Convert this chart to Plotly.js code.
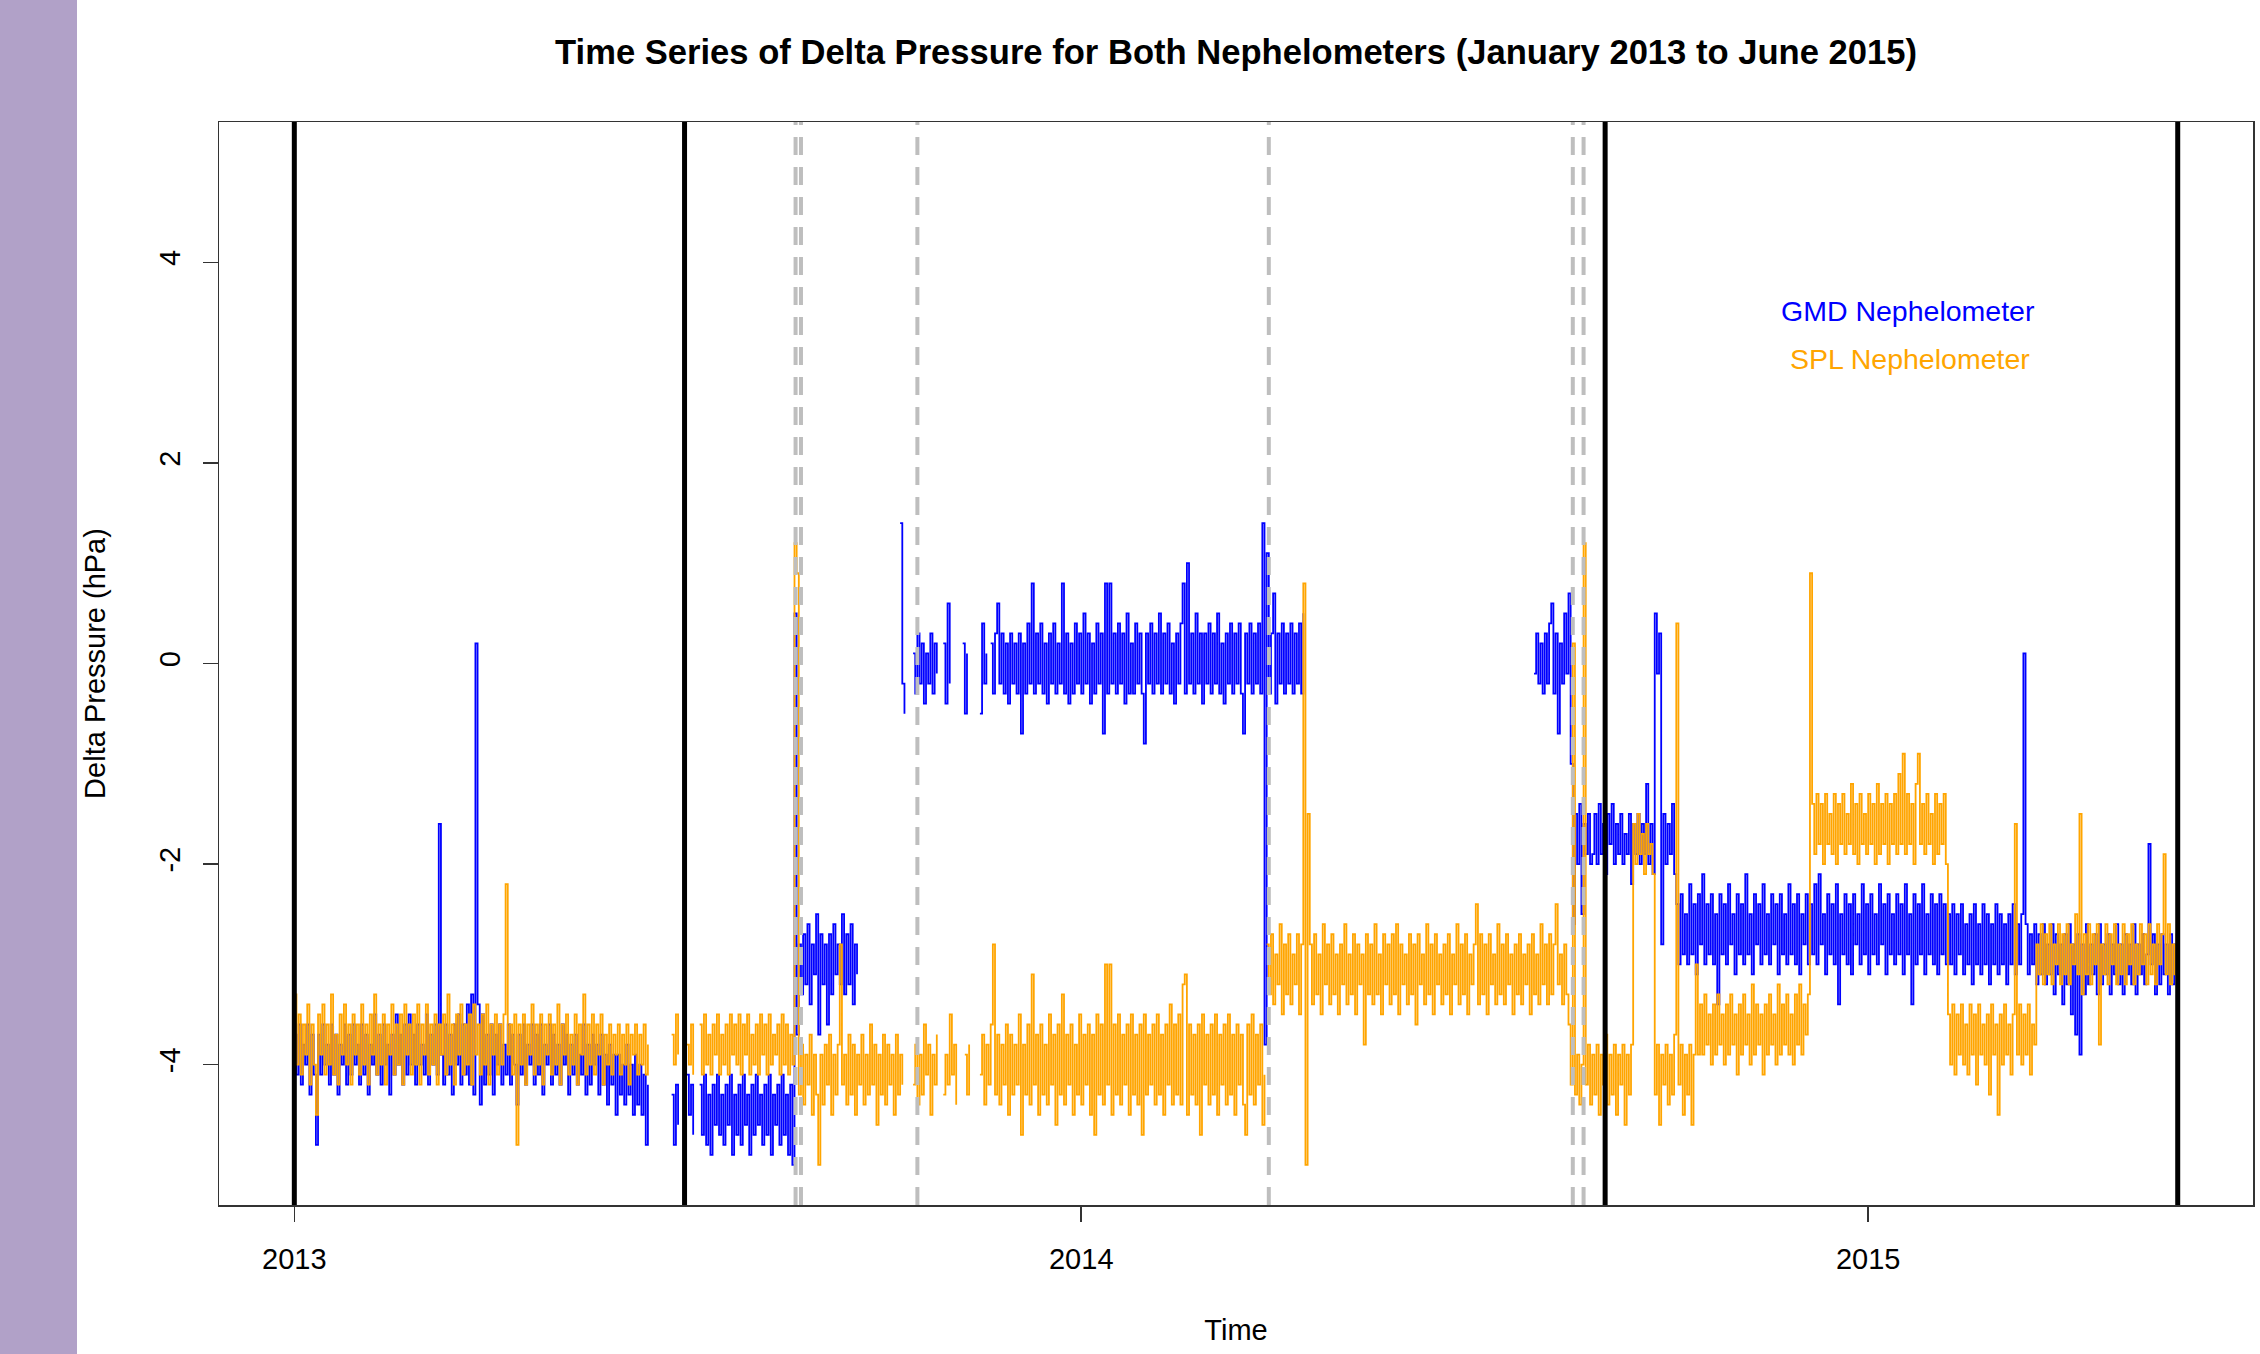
<!DOCTYPE html>
<html>
<head>
<meta charset="utf-8">
<script src="https://cdn.plot.ly/plotly-3.0.1.min.js"></script>
<style>
  html, body { margin: 0; padding: 0; background: #ffffff; }
  #chart { width: 2260px; height: 1354px; }
  #strip { position: absolute; left: 0; top: 0; width: 77px; height: 1354px; background: #b1a1c8; z-index: 10; }
</style>
</head>
<body>
<div id="strip"></div>
<div id="chart"></div>
<script>
// ---------------- DATA ----------------
// Daily values; each segment starts at the given day offset from 2013-01-01.

// GMD nephelometer: segment start days
const gmdStarts = [0, 175, 182, 188, 281, 287, 301, 310, 318, 323, 575];
// GMD nephelometer: segment values (hPa)
const gmdValues = [
  [-3.7,-4.1,-3.6,-4.2,-3.8,-4.0,-3.6,-4.3,-3.7,-4.1,
   -4.8,-3.7,-4.1,-3.6,-4.0,-3.8,-4.2,-3.6,-4.1,-3.7,
   -4.3,-3.8,-4.0,-3.6,-4.2,-3.7,-4.1,-3.6,-4.0,-3.8,
   -4.2,-3.6,-4.1,-3.7,-4.3,-3.8,-4.0,-3.5,-4.1,-3.7,
   -4.2,-3.6,-4.0,-3.8,-4.3,-3.7,-4.1,-3.5,-4.0,-3.7,
   -4.2,-3.6,-4.1,-3.5,-4.0,-3.7,-4.2,-3.6,-4.0,-3.8,
   -4.1,-3.5,-4.2,-3.7,-4.0,-3.6,-4.1,-1.6,-3.9,-4.2,
   -3.6,-4.1,-3.7,-4.3,-3.6,-4.0,-3.5,-4.2,-3.6,-4.1,
   -3.4,-4.2,-3.3,-4.3,0.2,-3.4,-4.4,-3.5,-4.2,-3.7,
   -4.1,-3.6,-4.3,-3.7,-4.0,-3.6,-4.2,-3.8,-4.1,-3.6,
   -4.2,-3.7,-4.0,-4.4,-3.7,-4.1,-3.6,-4.2,-3.8,-4.0,
   -3.6,-4.2,-3.7,-4.1,-3.6,-4.3,-3.8,-4.0,-3.6,-4.2,
   -3.7,-4.1,-3.8,-4.2,-3.6,-4.0,-3.7,-4.3,-3.8,-4.1,
   -3.7,-4.2,-3.9,-4.1,-3.6,-4.3,-3.8,-4.2,-3.7,-4.0,
   -3.8,-4.3,-3.7,-4.2,-3.9,-4.4,-3.8,-4.2,-3.9,-4.5,
   -3.9,-4.3,-4.0,-4.4,-3.8,-4.3,-4.0,-4.5,-3.9,-4.4,
   -4.0,-4.5,-4.1,-4.8,-4.2],
  [-4.3,-4.8,-4.2,-4.6],
  [-4.1,-4.5,-4.2,-4.7],
  [-4.2,-4.7,-4.1,-4.8,-4.3,-4.9,-4.2,-4.6,-4.1,-4.7,
   -4.3,-4.8,-4.2,-4.6,-4.1,-4.9,-4.3,-4.7,-4.2,-4.8,
   -4.1,-4.6,-4.3,-4.9,-4.2,-4.7,-4.1,-4.6,-4.3,-4.8,
   -4.2,-4.7,-4.1,-4.9,-4.3,-4.6,-4.2,-4.8,-4.1,-4.7,
   -4.3,-4.9,-4.2,-5.0,
   0.5,-3.7,
   -2.8,-3.3,-2.7,-3.2,-2.6,-3.4,-2.8,-3.1,-2.5,-3.7,
   -2.7,-3.2,-2.8,-3.6,-2.7,-3.3,-2.6,-3.1,-2.8,-3.2,
   -2.5,-3.3,-2.7,-3.2,-2.6,-3.4,-2.8,-3.1],
  [1.4,-0.2,-0.5],
  [0.1,-0.3,0.3,-0.2,0.2,-0.4,0.1,-0.2,0.3,-0.3,0.2,-0.1],
  [0.2,-0.4,0.6,-0.2],
  [0.2,-0.5,0.1],
  [-0.5,0.4,-0.2,0.1],
  [0.2,-0.3,0.3,0.6,-0.2,0.3,-0.3,0.2,-0.4,0.3,
   -0.2,0.2,-0.3,0.3,-0.7,0.2,-0.3,0.4,-0.2,0.8,
   -0.3,0.3,-0.2,0.4,-0.3,0.2,-0.4,0.3,-0.2,0.4,
   -0.3,0.2,-0.2,0.8,-0.3,0.3,-0.4,0.2,-0.3,0.4,
   -0.2,0.3,-0.3,0.5,-0.2,0.3,-0.4,0.2,-0.3,0.4,
   -0.2,0.3,-0.7,0.8,-0.3,0.8,-0.2,0.3,-0.3,0.4,
   -0.2,0.3,-0.4,0.5,-0.3,0.2,-0.3,0.4,-0.2,0.3,
   -0.3,-0.8,0.3,-0.2,0.4,-0.3,0.3,-0.2,0.5,-0.3,
   0.3,-0.2,0.4,-0.3,0.2,-0.4,0.3,-0.2,0.4,0.8,
   -0.3,1.0,-0.2,0.3,-0.3,0.5,-0.2,0.3,-0.4,0.3,
   -0.2,0.4,-0.3,0.3,-0.2,0.5,-0.3,0.2,-0.4,0.3,
   -0.2,0.4,-0.3,0.3,-0.2,0.4,-0.3,-0.7,0.3,-0.2,
   0.4,-0.3,0.3,-0.2,0.4,-0.3,1.4,-3.8,1.1,-0.3,
   0.3,0.7,-0.4,0.3,-0.2,0.4,-0.3,0.3,-0.2,0.4,
   -0.3,0.3,-0.2,0.4,-0.3,0.5],
  [-0.1,0.3,-0.2,0.2,-0.3,0.3,-0.2,0.4,0.6,-0.3,
   0.3,-0.7,0.2,-0.2,0.5,-0.1,0.7,
   -1.0,-2.6,-1.5,-2.0,-1.4,-2.5,-1.6,-1.9,-1.5,-2.0,
   -1.9,-1.5,-2.0,-1.4,-1.9,-1.6,-2.1,-1.5,-1.8,-1.4,
   -2.0,-1.6,-1.9,-1.5,-2.0,-1.7,-1.9,-1.5,-2.2,-1.6,
   -1.9,-1.5,-2.0,-1.6,-1.9,-1.2,-2.0,-1.6,-2.1,0.5,
   -0.1,0.3,-2.8,-1.5,-2.0,-1.6,-1.9,-1.4,-2.1,
   -2.4,-3.0,-2.3,-2.9,-2.5,-3.0,-2.2,-2.9,-2.4,-3.1,
   -2.3,-2.8,-2.1,-3.0,-2.4,-2.9,-2.3,-3.0,-2.5,-3.4,
   -2.3,-2.9,-2.4,-3.0,-2.2,-2.8,-2.5,-3.1,-2.3,-2.9,
   -2.4,-3.0,-2.1,-2.9,-2.5,-3.1,-2.3,-2.8,-2.4,-3.0,
   -2.2,-2.9,-2.5,-3.0,-2.3,-2.8,-2.4,-3.1,-2.3,-2.9,
   -2.5,-3.0,-2.2,-2.9,-2.4,-3.0,-2.3,-3.1,-2.5,-2.8,
   -2.3,-3.0,-2.4,-2.9,-2.2,-3.0,-2.1,-2.8,-2.5,-3.1,
   -2.3,-2.9,-2.4,-3.0,-2.2,-3.4,-2.5,-2.9,-2.3,-3.0,
   -2.4,-3.1,-2.3,-2.8,-2.5,-3.0,-2.2,-2.9,-2.4,-3.1,
   -2.3,-2.9,-2.5,-3.0,-2.2,-2.8,-2.4,-3.1,-2.3,-2.9,
   -2.5,-3.0,-2.3,-2.9,-2.4,-3.1,-2.2,-2.9,-2.5,-3.4,
   -2.3,-3.0,-2.4,-2.9,-2.2,-3.1,-2.5,-2.9,-2.3,-3.0,
   -2.4,-3.1,-2.3,-2.9,-2.4,-3.0,-2.5,-3.0,-2.4,-3.1,
   -2.5,-2.9,-2.4,-3.1,-2.6,-3.0,-2.5,-3.2,-2.4,-3.0,
   -2.6,-3.1,-2.4,-3.0,-2.5,-3.2,-2.6,-3.0,-2.4,-3.1,
   -2.5,-3.0,-2.6,-3.2,-2.5,-3.0,-2.4,-3.1,-2.6,-3.0,
   -2.5,0.1,-2.6,-3.1,-2.7,-3.0,-2.6,-3.2,-2.7,-3.1,
   -2.6,-3.2,-2.8,-3.1,-2.6,-3.3,-2.7,-3.1,-2.8,-3.4,
   -2.7,-3.2,-2.6,-3.5,-2.8,-3.7,-2.7,-3.9,-2.8,-3.3,
   -2.6,-3.2,-2.8,-3.1,-2.7,-3.3,-2.6,-3.2,-2.8,-3.1,
   -2.7,-3.3,-2.8,-3.1,-2.6,-3.2,-2.8,-3.3,-2.7,-3.1,
   -2.8,-3.2,-2.6,-3.3,-2.8,-3.1,-2.7,-3.2,-2.9,-1.8,
   -3.0,-2.7,-3.3,-2.8,-3.2,-2.7,-3.1,-2.8,-3.3,-2.7,
   -3.2,-2.8,-3.1,-2.9]
];

// SPL nephelometer: segment start days
const splStarts = [0, 175, 182, 188, 287, 301, 311, 318, 451];
// SPL nephelometer: segment values (hPa)
const splValues = [
  [-3.3,-4.0,-3.5,-4.1,-3.6,-3.9,-3.4,-4.2,-3.6,-4.0,
   -4.5,-3.5,-3.9,-3.4,-4.1,-3.6,-4.0,-3.3,-4.1,-3.7,
   -4.2,-3.5,-3.9,-3.4,-4.0,-3.6,-4.2,-3.5,-3.9,-3.6,
   -4.1,-3.4,-4.0,-3.6,-4.2,-3.5,-3.9,-3.3,-4.1,-3.6,
   -4.0,-3.5,-4.2,-3.6,-3.9,-3.4,-4.1,-3.6,-4.0,-3.5,
   -4.2,-3.4,-3.9,-3.6,-4.1,-3.5,-4.0,-3.4,-4.2,-3.6,
   -3.9,-3.4,-4.1,-3.6,-4.0,-3.5,-4.2,-3.6,-3.9,-3.5,
   -4.1,-3.3,-4.0,-3.6,-4.2,-3.5,-3.9,-3.4,-4.1,-3.6,
   -4.0,-3.5,-4.2,-3.4,-3.9,-3.6,-4.1,-3.5,-4.0,-3.4,
   -4.2,-3.6,-3.9,-3.5,-4.1,-3.6,-4.0,-3.5,-2.2,-3.9,
   -3.6,-4.1,-3.5,-4.8,-3.6,-4.0,-3.5,-4.2,-3.6,-3.9,
   -3.4,-4.1,-3.6,-4.0,-3.5,-4.2,-3.6,-3.9,-3.5,-4.1,
   -3.6,-4.0,-3.4,-4.2,-3.6,-3.9,-3.5,-4.1,-3.7,-4.0,
   -3.5,-4.2,-3.6,-3.9,-3.3,-4.1,-3.6,-4.0,-3.5,-4.1,
   -3.6,-3.9,-3.5,-4.2,-3.7,-4.0,-3.6,-4.1,-3.7,-3.9,
   -3.6,-4.1,-3.7,-4.0,-3.6,-4.2,-3.7,-3.9,-3.6,-4.1,
   -3.7,-4.0,-3.6,-4.1,-3.8],
  [-3.7,-4.0,-3.5,-3.9],
  [-3.8,-4.0,-3.6,-4.1],
  [-3.6,-4.1,-3.5,-4.0,-3.7,-4.1,-3.6,-3.9,-3.5,-4.1,
   -3.7,-4.0,-3.6,-4.1,-3.5,-3.9,-3.6,-4.0,-3.5,-4.1,
   -3.6,-3.9,-3.5,-4.1,-3.7,-4.0,-3.6,-4.1,-3.5,-3.9,
   -3.6,-4.1,-3.5,-4.0,-3.7,-3.9,-3.6,-4.1,-3.5,-4.0,
   -3.6,-4.1,-3.7,-4.0,
   1.2,0.9,
   -4.3,-3.8,-4.4,-3.9,-4.2,-3.7,-4.5,-3.9,-4.3,-5.0,
   -3.9,-4.4,-3.8,-4.2,-3.7,-4.5,-3.9,-4.3,-3.8,-2.8,
   -4.2,-3.9,-4.4,-3.7,-4.3,-3.8,-4.5,-3.9,-4.2,-3.7,
   -4.4,-3.9,-4.3,-3.6,-4.2,-3.8,-4.6,-3.9,-4.3,-3.7,
   -4.4,-3.8,-4.2,-3.9,-4.5,-3.7,-4.3,-3.9,-4.2],
  [-4.2,-3.8,-4.4,-3.9,-4.3,-3.6,-4.1,-3.8,-4.5,-3.9,-4.2,-3.7],
  [-4.3,-3.9,-4.2,-3.5,-4.1,-3.8,-4.4],
  [-3.9,-4.3,-3.8],
  [-4.1,-3.7,-4.4,-3.8,-4.2,-3.6,-2.8,-4.3,-3.7,-4.4,
   -3.8,-4.2,-3.6,-4.5,-3.7,-4.3,-3.8,-4.2,-3.5,-4.7,
   -3.8,-4.3,-3.6,-4.4,-3.1,-4.2,-3.7,-4.5,-3.6,-4.3,
   -3.8,-4.4,-3.5,-4.2,-3.7,-4.6,-3.6,-4.3,-3.3,-4.4,
   -3.7,-4.2,-3.6,-4.5,-3.8,-4.3,-3.5,-4.4,-3.7,-4.2,
   -3.6,-4.5,-3.7,-4.7,-3.5,-4.3,-3.6,-4.4,-3.0,-4.2,
   -3.0,-4.5,-3.6,-4.3,-3.5,-4.4,-3.7,-4.2,-3.6,-4.5,
   -3.5,-4.3,-3.7,-4.4,-3.6,-4.7,-3.5,-4.3,-3.7,-4.2,
   -3.6,-4.4,-3.5,-4.3,-3.7,-4.5,-3.6,-4.2,-3.4,-4.4,
   -3.6,-4.3,-3.5,-4.4,-3.2,-3.1,-4.5,-3.6,-4.3,-3.7,
   -4.4,-3.6,-4.7,-3.5,-4.2,-3.7,-4.4,-3.6,-4.3,-3.5,
   -4.5,-3.7,-4.2,-3.6,-4.4,-3.5,-4.3,-3.7,-4.5,-3.6,
   -4.2,-3.7,-4.4,-4.7,-3.6,-4.3,-3.5,-4.4,-3.7,-4.2,
   -3.6,-4.6,-4.1],
  [-2.8,-3.3,-2.7,-3.4,-2.9,-3.2,-2.6,-3.5,-2.8,-3.3,
   -2.7,-3.4,-2.9,-3.2,-2.7,-3.5,-2.8,0.8,-5.0,-1.5,
   -2.8,-3.4,-2.7,-3.3,-2.9,-3.5,-2.6,-3.2,-2.8,-3.4,
   -2.7,-3.3,-2.9,-3.5,-2.8,-3.2,-2.6,-3.4,-2.9,-3.3,
   -2.7,-3.5,-2.8,-3.2,-2.9,-3.8,-2.7,-3.3,-2.8,-3.4,
   -2.6,-3.3,-2.9,-3.5,-2.7,-3.2,-2.8,-3.4,-2.7,-3.3,
   -2.6,-3.5,-2.8,-3.2,-2.9,-3.4,-2.7,-3.3,-2.8,-3.6,
   -2.7,-3.2,-2.9,-3.4,-2.6,-3.3,-2.8,-3.5,-2.7,-3.2,
   -2.9,-3.4,-2.8,-3.3,-2.7,-3.5,-2.9,-3.2,-2.6,-3.4,
   -2.8,-3.3,-2.7,-3.5,-2.9,-3.2,-2.8,-2.4,-3.4,-2.7,
   -3.3,-2.8,-3.5,-2.7,-3.2,-2.9,-3.4,-2.6,-3.3,-2.8,
   -3.4,-2.7,-3.2,-2.9,-3.5,-2.8,-3.3,-2.7,-3.4,-2.9,
   -3.2,-2.8,-3.5,-2.7,-3.3,-2.9,-3.4,-2.6,-3.2,-2.8,
   -3.4,-2.7,-3.3,-2.8,-2.4,-3.2,-2.9,-3.4,-2.8,-3.3,
   -3.6,-4.2,0.2,-4.3,-3.9,-4.4,-4.0,1.2,-4.2,-3.8,
   -4.4,-3.9,-4.3,-3.8,-4.5,-3.9,-4.2,-3.7,-4.4,-3.9,
   -4.3,-3.8,-4.5,-3.9,-4.2,-3.8,-4.6,-3.9,-4.3,-3.8,
   -1.6,-2.0,-1.5,-1.9,-1.7,-2.1,-1.6,-1.9,-1.8,-2.1,
   -4.3,-3.8,-4.6,-3.9,-4.2,-3.8,-4.4,-3.9,-4.3,-3.7,
   0.4,-4.2,-3.8,-4.5,-3.9,-4.3,-3.8,-4.6,-3.9,-3.0,
   -3.9,-3.4,-3.9,-3.3,-3.8,-3.5,-4.0,-3.4,-3.9,-3.3,
   -3.8,-3.5,-4.0,-3.4,-3.9,-3.3,-3.8,-3.5,-4.1,-3.4,
   -3.9,-3.3,-3.8,-3.5,-4.0,-3.2,-3.9,-3.4,-3.8,-3.5,
   -4.1,-3.4,-3.9,-3.3,-3.8,-3.5,-4.0,-3.2,-3.9,-3.4,
   -3.8,-3.3,-3.9,-3.5,-4.0,-3.3,-3.8,-3.2,-3.9,-3.4,
   -3.7,-3.3,0.9,-1.4,-1.9,-1.3,-1.8,-1.4,-2.0,-1.3,
   -1.8,-1.5,-1.9,-1.3,-2.0,-1.4,-1.8,-1.3,-1.9,-1.5,
   -1.8,-1.2,-1.9,-1.4,-2.0,-1.3,-1.8,-1.5,-1.9,-1.3,
   -1.8,-1.4,-2.0,-1.2,-1.9,-1.4,-1.8,-1.3,-2.0,-1.4,
   -1.8,-1.3,-1.9,-1.1,-1.8,-0.9,-1.9,-1.3,-1.8,-1.4,
   -2.0,-1.2,-0.9,-1.8,-1.4,-1.9,-1.3,-1.8,-1.5,-2.0,
   -1.3,-1.9,-1.4,-1.8,-1.3,-2.0,-3.5,-4.0,-3.4,-4.1,
   -3.5,-3.9,-3.4,-4.0,-3.6,-4.1,-3.4,-3.9,-3.5,-4.2,
   -3.4,-3.9,-3.6,-4.0,-3.5,-4.3,-3.4,-3.9,-3.6,-4.5,
   -3.5,-4.0,-3.4,-3.9,-3.6,-4.1,-3.5,-1.6,-3.9,-3.4,
   -4.0,-3.5,-3.9,-3.4,-4.1,-3.6,-3.8,-2.8,-3.1,-2.6,
   -3.2,-2.7,-3.1,-2.6,-3.2,-2.8,-3.0,-2.6,-3.2,-2.7,
   -3.1,-2.6,-3.2,-2.8,-3.0,-2.5,-3.1,-1.5,-3.3,-2.7,
   -3.1,-2.6,-3.2,-2.7,-3.0,-2.6,-3.8,-2.8,-3.1,-2.6,
   -3.2,-2.7,-3.0,-2.6,-3.2,-2.8,-3.1,-2.6,-3.2,-2.7,
   -3.0,-2.6,-3.2,-2.8,-3.1,-2.6,-3.0,-2.7,-3.2,-2.6,
   -3.1,-2.8,-3.2,-2.6,-3.0,-2.7,-1.9,-3.1,-2.6,-3.2,
   -2.8,-3.1,-2.7,-3.3]
];

// Reference lines
const solidLineDates = ['2013-01-01', '2013-07-01', '2014-09-01', '2015-05-24 14:00'];
const dashedLineDates = ['2013-08-21 12:00', '2013-08-24', '2013-10-17', '2014-03-29', '2014-08-17', '2014-08-22'];

// Axes
const xRange = ['2012-11-27 01:30', '2015-06-28 12:00'];
const xTickVals = ['2013-01-01', '2014-01-01', '2015-01-01'];
const xTickText = ['2013', '2014', '2015'];
const yTickVals = [-4, -2, 0, 2, 4];
const yTickText = ['-4', '-2', '0', '2', '4'];
const seriesNames = ['GMD Nephelometer', 'SPL Nephelometer'];
const seriesColors = ['#0000ff', '#ffa500'];

// ---------------- BUILD ----------------
const BASE = Date.UTC(2013, 0, 1);
function dayToDate(d) {
  const t = new Date(BASE + d * 86400000).toISOString();
  return t.slice(0, 10) + ' ' + t.slice(11, 19);
}
function buildSeries(starts, segs) {
  const x = [], y = [];
  segs.forEach((seg, i) => {
    if (i > 0) { x.push(dayToDate(starts[i] - 0.5)); y.push(null); }
    seg.forEach((v, j) => { x.push(dayToDate(starts[i] + j)); y.push(v); });
  });
  return { x, y };
}
const gmd = buildSeries(gmdStarts, gmdValues);
const spl = buildSeries(splStarts, splValues);

const FONT = 'Liberation Sans, Arial, Helvetica, sans-serif';

const traces = [
  { x: gmd.x, y: gmd.y, type: 'scatter', mode: 'lines', name: seriesNames[0],
    line: { color: seriesColors[0], width: 1.8, shape: 'hv' }, connectgaps: false, hoverinfo: 'skip', showlegend: false },
  { x: spl.x, y: spl.y, type: 'scatter', mode: 'lines', name: seriesNames[1],
    line: { color: seriesColors[1], width: 1.8, shape: 'hv' }, connectgaps: false, hoverinfo: 'skip', showlegend: false }
];

const shapes = [];
dashedLineDates.forEach(d => shapes.push({ type: 'line', xref: 'x', yref: 'paper', x0: d, x1: d, y0: 0, y1: 1,
  line: { color: '#bebebe', width: 4, dash: '18px,12px' }, layer: 'above' }));
solidLineDates.forEach(d => shapes.push({ type: 'line', xref: 'x', yref: 'paper', x0: d, x1: d, y0: 0, y1: 1,
  line: { color: '#000000', width: 5 }, layer: 'above' }));

const layout = {
  width: 2260, height: 1354,
  margin: { l: 219, r: 7, t: 122, b: 149, pad: 0 },
  paper_bgcolor: '#ffffff', plot_bgcolor: '#ffffff',
  font: { family: FONT, size: 29, color: '#000000' },
  title: { text: 'Time Series of Delta Pressure for Both Nephelometers (January 2013 to June 2015)',
    font: { family: FONT, size: 34.6, weight: 'bold', color: '#000000' },
    x: 0.5, xref: 'paper', xanchor: 'center', y: 1 - 52 / 1354, yref: 'container', yanchor: 'middle' },
  xaxis: {
    type: 'date', range: xRange, tickmode: 'array', tickvals: xTickVals, ticktext: xTickText,
    ticks: 'outside', ticklen: 15, tickwidth: 1.5, tickcolor: '#333333', ticklabelstandoff: 13,
    showgrid: false, zeroline: false, showline: true, mirror: true, linecolor: '#333333', linewidth: 1.5,
    tickfont: { family: FONT, size: 29, color: '#000000' },
    title: { text: 'Time', font: { family: FONT, size: 29, color: '#000000' }, standoff: 45 }
  },
  yaxis: {
    range: [-5.4, 5.4], tickmode: 'array', tickvals: yTickVals, ticktext: yTickText, tickangle: -90,
    ticks: 'outside', ticklen: 15, tickwidth: 1.5, tickcolor: '#333333', ticklabelstandoff: 11,
    showgrid: false, zeroline: false, showline: true, mirror: true, linecolor: '#333333', linewidth: 1.5,
    tickfont: { family: FONT, size: 29, color: '#000000' },
    title: { text: 'Delta Pressure (hPa)', font: { family: FONT, size: 29, color: '#000000' }, standoff: 40 }
  },
  shapes: shapes,
  annotations: [
    { text: seriesNames[0], xref: 'paper', yref: 'paper', x: (1908 - 219) / 2034, y: (1205 - 311) / 1083,
      xanchor: 'center', yanchor: 'middle', showarrow: false, font: { family: FONT, size: 28.5, color: seriesColors[0] } },
    { text: seriesNames[1], xref: 'paper', yref: 'paper', x: (1910 - 219) / 2034, y: (1205 - 359) / 1083,
      xanchor: 'center', yanchor: 'middle', showarrow: false, font: { family: FONT, size: 28.5, color: seriesColors[1] } }
  ],
  showlegend: false,
  hovermode: false
};

Plotly.newPlot('chart', traces, layout, { displayModeBar: false, staticPlot: true });
</script>
</body>
</html>
